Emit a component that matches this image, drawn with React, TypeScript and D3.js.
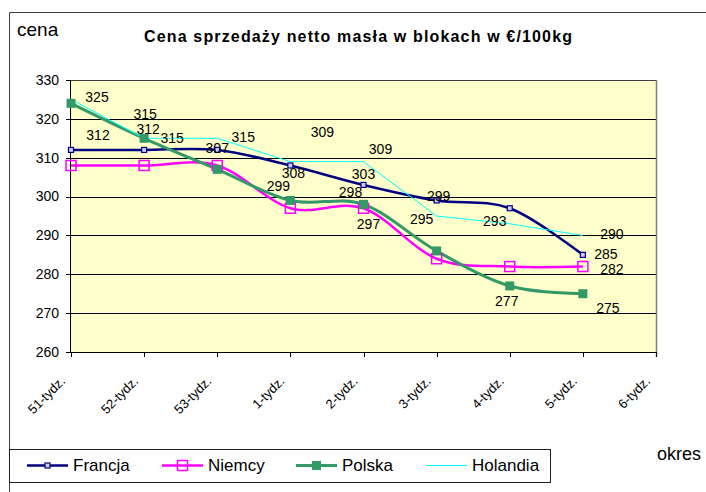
import React from 'react';
import * as d3 from 'd3';

const categories = ['51-tydz.', '52-tydz.', '53-tydz.', '1-tydz.', '2-tydz.', '3-tydz.', '4-tydz.', '5-tydz.', '6-tydz.'];
const francja = [312, 312, 312, 308, 303, 299, 297, 285];
const niemcy = [308, 308, 308, 297, 297, 284, 282, 282];
const polska = [324, 315, 307, 299, 298, 286, 277, 275];
const holandia = [325, 315, 315, 309, 309, 295, 293, 290];
const yTicks = [260, 270, 280, 290, 300, 310, 320, 330];

// label nudges (px) per point, null = no label shown
type Off = [number, number] | null;
const francjaLbl: Off[] = [[27, -15], [4, -21], null, [3, 8], [0, -11], [2, -4], null, [23, -1]];
const niemcyLbl: Off[] = [null, null, null, null, [5, 16], null, null, [29, 3]];
const polskaLbl: Off[] = [null, [28, 0], [0, -21], [-12, -14], [-13, -12], null, [-3, 15], [25, 14]];
const holandiaLbl: Off[] = [[26, -2], [1, -24], [26, -1], [32, -30], [17, -13], [-15, 3], [-15, -3], [29, -1]];

const FONT = "'Liberation Sans', Arial, sans-serif";
const W = 706, H = 492;
const left = 71, right = 656, top = 80, bottom = 352;

const series = [
  { name: 'Francja', values: francja, labels: francjaLbl, color: '#000080', width: 2.5, smooth: true, marker: 'small' },
  { name: 'Niemcy', values: niemcy, labels: niemcyLbl, color: '#ff00ff', width: 2.5, smooth: true, marker: 'open' },
  { name: 'Polska', values: polska, labels: polskaLbl, color: '#339966', width: 3, smooth: true, marker: 'filled' },
  { name: 'Holandia', values: holandia, labels: holandiaLbl, color: '#00ffff', width: 1, smooth: false, marker: 'none' },
];

function Marker({ kind, x, y, color }: { kind: string; x: number; y: number; color: string }) {
  if (kind === 'small') return <rect x={x - 2.5} y={y - 2.5} width={5} height={5} fill="#ccccff" stroke={color} strokeWidth={1.2} />;
  if (kind === 'open') return <rect x={x - 5} y={y - 5} width={10} height={10} fill="none" stroke={color} strokeWidth={1.5} />;
  if (kind === 'filled') return <rect x={x - 4.5} y={y - 4.5} width={9} height={9} fill={color} />;
  return null;
}

export default function App() {
  const x = d3.scalePoint<string>().domain(categories).range([left, right]);
  const y = d3.scaleLinear().domain([260, 330]).range([bottom, top]);

  const legendX = [27, 162, 296, 426];

  return (
    <svg width={W} height={H} style={{ position: 'absolute', left: 0, top: 0, background: '#fff' }} fontFamily={FONT}>
      {/* chart frame */}
      <line x1={9.5} y1={12.5} x2={W} y2={12.5} stroke="#404040" />
      <line x1={9.5} y1={12.5} x2={9.5} y2={H} stroke="#404040" />

      <text x={17} y={36} fontSize={19}>cena</text>
      <text x={144} y={42} fontSize={16} fontWeight="bold" textLength={428} lengthAdjust="spacing">
        Cena sprzedaży netto masła w blokach w €/100kg
      </text>

      {/* plot area */}
      <rect x={left} y={top} width={right - left} height={bottom - top} fill="#ffffcc" />
      {yTicks.filter(t => t > 260 && t < 330).map(t => (
        <line key={t} x1={left} x2={right} y1={Math.round(y(t)) + 0.5} y2={Math.round(y(t)) + 0.5} stroke="#000" />
      ))}
      <line x1={left} x2={right} y1={top + 0.5} y2={top + 0.5} stroke="#404040" />
      <line x1={right + 0.5} x2={right + 0.5} y1={top} y2={bottom + 5} stroke="#808080" strokeWidth={1.5} />
      <line x1={left - 0.5} x2={left - 0.5} y1={top} y2={bottom} stroke="#000" />
      <line x1={left} x2={right} y1={bottom + 0.5} y2={bottom + 0.5} stroke="#000" />

      {yTicks.map(t => (
        <g key={t}>
          <line x1={left - 5} x2={left} y1={Math.round(y(t)) + 0.5} y2={Math.round(y(t)) + 0.5} stroke="#000" />
          <text x={59} y={y(t)} dy="0.35em" fontSize={14} textAnchor="end">{t}</text>
        </g>
      ))}
      {categories.map(c => (
        <g key={c}>
          <line x1={Math.round(x(c)!) + 0.5} x2={Math.round(x(c)!) + 0.5} y1={bottom} y2={bottom + 5} stroke="#000" />
          <text transform={`translate(${x(c)! - 5},${bottom + 30}) rotate(-45)`} fontSize={13} textAnchor="end">{c}</text>
        </g>
      ))}

      {/* lines */}
      {series.map(s => {
        const gen = d3.line<number>()
          .x((_, i) => x(categories[i])!)
          .y(v => y(v))
          .curve(s.smooth ? d3.curveCardinal.tension(0) : d3.curveLinear);
        return <path key={s.name} d={gen(s.values) || ''} fill="none" stroke={s.color} strokeWidth={s.width} />;
      })}
      {series.map(s => s.values.map((v, i) => (
        <Marker key={s.name + i} kind={s.marker} x={x(categories[i])!} y={y(v)} color={s.color} />
      )))}

      {/* data labels */}
      {series.map(s => s.values.map((v, i) => {
        const o = s.labels[i];
        if (!o) return null;
        return (
          <text key={'l' + s.name + i} x={x(categories[i])! + o[0]} y={y(v) + o[1]} dy="0.35em" fontSize={14} textAnchor="middle">{v}</text>
        );
      }))}

      {/* legend */}
      <rect x={9.5} y={449.5} width={541} height={33} fill="#fff" stroke="#202020" />
      {series.map((s, i) => (
        <g key={'lg' + s.name}>
          <line x1={legendX[i]} x2={legendX[i] + 41} y1={465.5} y2={465.5} stroke={s.color} strokeWidth={s.width} />
          <Marker kind={s.marker} x={legendX[i] + 20.5} y={465.5} color={s.color} />
          <text x={legendX[i] + 46} y={471} fontSize={17}>{s.name}</text>
        </g>
      ))}

      <text x={657} y={460} fontSize={18}>okres</text>
    </svg>
  );
}
